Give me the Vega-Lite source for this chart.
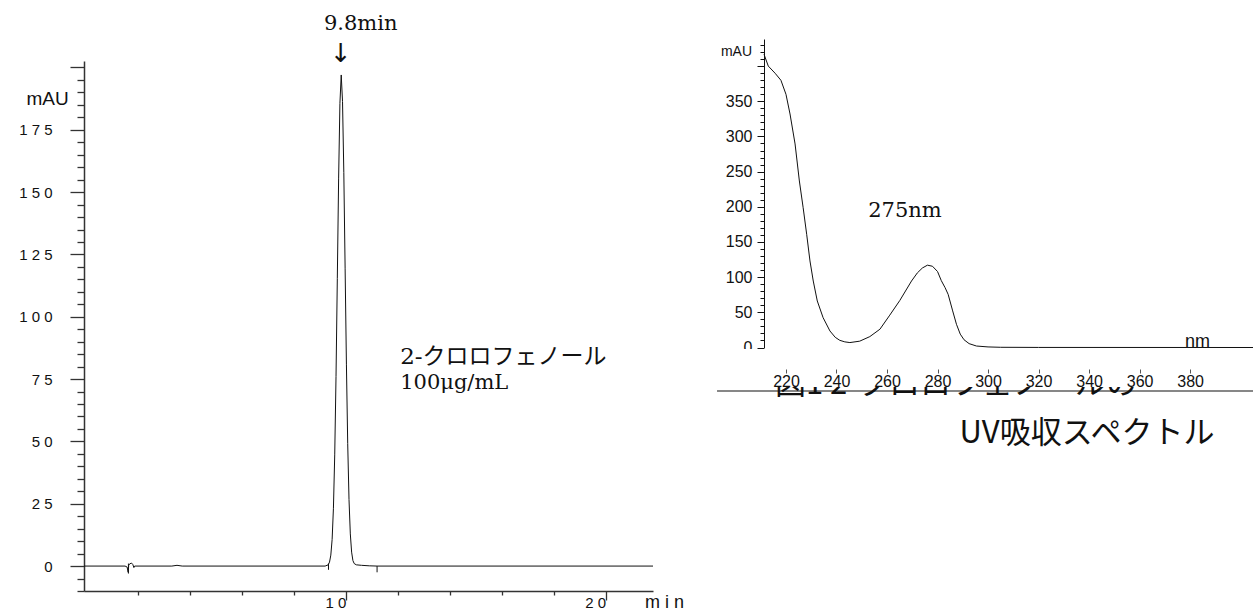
{
  "$schema": "https://vega.github.io/schema/vega-lite/v6.json",
  "background": "white",
  "padding": {"left": 18, "top": 12, "right": 0, "bottom": 0},
  "spacing": 111,
  "bounds": "flush",
  "config": {"view": {"stroke": null}, "axis": {"grid": false, "labelOverlap": false, "labelFlush": false, "labelBound": false}},
  "datasets": {
    "chrom": [
      {"t": -0.08, "v": 0}, {"t": 1.5, "v": 0}, {"t": 1.58, "v": -0.4}, {"t": 1.62, "v": -2.5}, {"t": 1.64, "v": 0.3},
      {"t": 1.68, "v": 0.9}, {"t": 1.75, "v": 1.2}, {"t": 1.8, "v": 0.6}, {"t": 1.84, "v": -0.6}, {"t": 1.87, "v": 0},
      {"t": 3.3, "v": 0}, {"t": 3.5, "v": 0.3}, {"t": 3.7, "v": 0},
      {"t": 9.2, "v": 0}, {"t": 9.32, "v": 0.5}, {"t": 9.37, "v": 1.6}, {"t": 9.42, "v": 4.4}, {"t": 9.47, "v": 10.7},
      {"t": 9.52, "v": 23.2}, {"t": 9.57, "v": 44.6}, {"t": 9.62, "v": 76.1}, {"t": 9.67, "v": 115.4}, {"t": 9.72, "v": 155.3},
      {"t": 9.77, "v": 185.6}, {"t": 9.82, "v": 197}, {"t": 9.87, "v": 186.4}, {"t": 9.92, "v": 157.8}, {"t": 9.97, "v": 119.5},
      {"t": 10.02, "v": 81.0}, {"t": 10.07, "v": 49.1}, {"t": 10.12, "v": 26.7}, {"t": 10.17, "v": 12.9}, {"t": 10.22, "v": 5.6},
      {"t": 10.27, "v": 2.2}, {"t": 10.32, "v": 1.0}, {"t": 10.4, "v": 0.5}, {"t": 10.6, "v": 0.3}, {"t": 10.9, "v": 0.1},
      {"t": 11.2, "v": 0}, {"t": 21.82, "v": 0}
    ],
    "marks": [
      {"t": 9.33, "lo": -1.5, "hi": 1},
      {"t": 11.2, "lo": -2.5, "hi": 0},
      {"t": 1.63, "lo": -3, "hi": 1}
    ],
    "spec": [
      {"nm": 211.3, "a": 416.8}, {"nm": 213.0, "a": 400}, {"nm": 215.7, "a": 389.8}, {"nm": 218.0, "a": 379.8},
      {"nm": 220.0, "a": 359.9}, {"nm": 221.6, "a": 331.9}, {"nm": 223.6, "a": 289.3}, {"nm": 225.3, "a": 236.7},
      {"nm": 226.8, "a": 198.7}, {"nm": 228.2, "a": 160.9}, {"nm": 229.5, "a": 123.0}, {"nm": 230.8, "a": 94.5},
      {"nm": 232.4, "a": 66.1}, {"nm": 234.7, "a": 42.4}, {"nm": 237.4, "a": 23.5}, {"nm": 239.5, "a": 14.5},
      {"nm": 241.3, "a": 10.2}, {"nm": 243.3, "a": 8.0}, {"nm": 245.3, "a": 7.0}, {"nm": 249.2, "a": 9.0},
      {"nm": 253.2, "a": 15.5}, {"nm": 257.2, "a": 26}, {"nm": 261.1, "a": 46}, {"nm": 265.1, "a": 67},
      {"nm": 269.7, "a": 94.5}, {"nm": 272.0, "a": 106}, {"nm": 274.0, "a": 113}, {"nm": 276.0, "a": 117},
      {"nm": 278.0, "a": 115.5}, {"nm": 280.0, "a": 108}, {"nm": 281.5, "a": 95}, {"nm": 283.0, "a": 85},
      {"nm": 284.2, "a": 75.6}, {"nm": 286.0, "a": 52}, {"nm": 287.5, "a": 33}, {"nm": 289.0, "a": 19},
      {"nm": 290.5, "a": 11}, {"nm": 292.5, "a": 5.5}, {"nm": 295.4, "a": 2.1}, {"nm": 300, "a": 0.8},
      {"nm": 305, "a": 0.3}, {"nm": 320, "a": 0.1}, {"nm": 404.9, "a": 0}
    ]
  },
  "hconcat": [
    {
      "width": 569,
      "height": 552,
      "layer": [
        {
          "data": {"name": "chrom"},
          "mark": {"type": "line", "color": "#111", "strokeWidth": 1},
          "encoding": {
            "x": {"field": "t", "type": "quantitative",
              "scale": {"domain": [-0.08, 21.82], "nice": false, "zero": false},
              "axis": {
                "values": [2, 4, 6, 8, 10, 12, 14, 16, 18, 20], "tickCount": 200,
                "labelOverlap": false, "labelFlush": false, "labelBound": false, "grid": false,
                "labelExpr": "datum.value === 10 || datum.value === 20 ? join(split(toString(datum.value), ''), ' ') : ''",
                "tickSize": {"condition": {"test": "datum.value === 10 || datum.value === 20", "value": 9}, "value": 4},
                "labelAlign": "right", "labelDx": 3, "labelPadding": -5, "labelBaseline": "top",
                "labelFont": "Liberation Sans", "labelFontSize": 15, "labelColor": "#111",
                "domainColor": "#333", "domainWidth": 1.5, "tickColor": "#333", "tickWidth": 1.3,
                "title": "m i n", "titleX": 580, "titleY": 11, "titleAlign": "center", "titleBaseline": "middle",
                "titleFont": "Liberation Sans", "titleFontSize": 18, "titleFontWeight": "normal", "titleColor": "#111"
              }},
            "y": {"field": "v", "type": "quantitative",
              "scale": {"domain": [-10, 202.6], "range": [552, 22], "nice": false, "zero": false},
              "axis": {
                "values": [-10,-5,0,5,10,15,20,25,30,35,40,45,50,55,60,65,70,75,80,85,90,95,100,105,110,115,120,125,130,135,140,145,150,155,160,165,170,175,180,185,190,195,200],
                "tickCount": 200,
                "labelOverlap": false, "labelFlush": false, "labelBound": false, "grid": false,
                "labelExpr": "datum.value % 25 === 0 && datum.value >= 0 && datum.value <= 175 ? join(split(toString(datum.value), ''), ' ') : ''",
                "tickSize": {"condition": {"test": "datum.value % 25 === 0", "value": 14}, "value": 7},
                "labelPadding": 18,
                "labelFont": "Liberation Sans", "labelFontSize": 15, "labelColor": "#111",
                "domainColor": "#333", "domainWidth": 1.5, "tickColor": "#333", "tickWidth": 1.3,
                "title": "mAU", "titleAngle": 0, "titleX": -37, "titleY": 59, "titleAlign": "center", "titleBaseline": "middle",
                "titleFont": "Liberation Sans", "titleFontSize": 19, "titleFontWeight": "normal", "titleColor": "#111"
              }}
          }
        },
        {
          "data": {"name": "marks"},
          "mark": {"type": "rule", "color": "#111", "strokeWidth": 1},
          "encoding": {
            "x": {"field": "t", "type": "quantitative", "scale": {"domain": [-0.08, 21.82], "nice": false, "zero": false}},
            "y": {"field": "lo", "type": "quantitative", "scale": {"domain": [-10, 202.6], "range": [552, 22], "nice": false, "zero": false}},
            "y2": {"field": "hi"}
          }
        },
        {
          "data": {"values": [{"t": 9.8, "v": 217.5, "label": "9.8min"}]},
          "mark": {"type": "text", "font": "DejaVu Serif", "fontSize": 21, "color": "#111", "dx": 20, "baseline": "middle"},
          "encoding": {
            "x": {"field": "t", "type": "quantitative", "scale": {"domain": [-0.08, 21.82], "nice": false, "zero": false}},
            "y": {"field": "v", "type": "quantitative", "scale": {"domain": [-10, 202.6], "range": [552, 22], "nice": false, "zero": false}},
            "text": {"field": "label"}
          }
        },
        {
          "data": {"values": [{"t": 9.8, "v": 205.4, "label": "↓"}]},
          "mark": {"type": "text", "font": "DejaVu Sans", "fontSize": 26, "color": "#111", "baseline": "middle"},
          "encoding": {
            "x": {"field": "t", "type": "quantitative", "scale": {"domain": [-0.08, 21.82], "nice": false, "zero": false}},
            "y": {"field": "v", "type": "quantitative", "scale": {"domain": [-10, 202.6], "range": [552, 22], "nice": false, "zero": false}},
            "text": {"field": "label"}
          }
        },
        {
          "data": {"values": [{"t": 12.09, "v": 84, "label": "2-クロロフェノール"}]},
          "mark": {"type": "text", "font": "'DejaVu Serif', 'Noto Sans CJK JP'", "fontSize": 23, "color": "#111", "align": "left", "baseline": "middle"},
          "encoding": {
            "x": {"field": "t", "type": "quantitative", "scale": {"domain": [-0.08, 21.82], "nice": false, "zero": false}},
            "y": {"field": "v", "type": "quantitative", "scale": {"domain": [-10, 202.6], "range": [552, 22], "nice": false, "zero": false}},
            "text": {"field": "label"}
          }
        },
        {
          "data": {"values": [{"t": 12.09, "v": 73.6, "label": "100μg/mL"}]},
          "mark": {"type": "text", "font": "DejaVu Serif", "fontSize": 21, "color": "#111", "align": "left", "baseline": "middle"},
          "encoding": {
            "x": {"field": "t", "type": "quantitative", "scale": {"domain": [-0.08, 21.82], "nice": false, "zero": false}},
            "y": {"field": "v", "type": "quantitative", "scale": {"domain": [-10, 202.6], "range": [552, 22], "nice": false, "zero": false}},
            "text": {"field": "label"}
          }
        }
      ]
    },
    {
      "width": 489,
      "height": 308.5,
      "layer": [
        {
          "data": {"name": "spec"},
          "mark": {"type": "line", "color": "#111", "strokeWidth": 1},
          "encoding": {
            "x": {"field": "nm", "type": "quantitative",
              "scale": {"domain": [211.3, 404.9], "nice": false, "zero": false},
              "axis": {
                "values": [220, 240, 260, 280, 300, 320, 340, 360, 380], "tickCount": 200,
                "labelOverlap": false, "labelFlush": false, "labelBound": false, "grid": false,
                "domain": false, "offset": 21.5, "tickSize": 4, "tickColor": "#555", "tickWidth": 1,
                "labelPadding": 0, "labelBaseline": "top",
                "labelFont": "Liberation Sans", "labelFontSize": 16, "labelColor": "#111", "zindex": 1,
                "title": "nm", "titleX": 433, "titleY": -28, "titleAlign": "center", "titleBaseline": "middle",
                "titleFont": "Liberation Sans", "titleFontSize": 18, "titleFontWeight": "normal", "titleColor": "#111"
              }},
            "y": {"field": "a", "type": "quantitative",
              "scale": {"domain": [0, 438.5], "nice": false, "zero": false},
              "axis": {
                "values": [0,10,20,30,40,50,60,70,80,90,100,110,120,130,140,150,160,170,180,190,200,210,220,230,240,250,260,270,280,290,300,310,320,330,340,350,360,370,380,390,400,410,420,430],
                "tickCount": 200,
                "labelOverlap": false, "labelFlush": false, "labelBound": false, "grid": false,
                "labelExpr": "datum.value % 50 === 0 && datum.value <= 350 ? toString(datum.value) : ''",
                "tickSize": {"condition": {"test": "datum.value % 50 === 0", "value": 7}, "value": 4},
                "labelPadding": 5, "zindex": 0,
                "labelFont": "Liberation Sans", "labelFontSize": 16, "labelColor": "#111",
                "domainColor": "#111", "domainWidth": 1, "tickColor": "#111", "tickWidth": 1,
                "title": "mAU", "titleAngle": 0, "titleX": -28, "titleY": 12, "titleAlign": "center", "titleBaseline": "middle",
                "titleFont": "Liberation Sans", "titleFontSize": 14, "titleFontWeight": "normal", "titleColor": "#111"
              }}
          }
        },
        {
          "data": {"values": [{"nm": 267.1, "a": 194, "label": "275nm"}]},
          "mark": {"type": "text", "font": "DejaVu Serif", "fontSize": 21, "color": "#111", "baseline": "middle"},
          "encoding": {
            "x": {"field": "nm", "type": "quantitative", "scale": {"domain": [211.3, 404.9], "nice": false, "zero": false}},
            "y": {"field": "a", "type": "quantitative", "scale": {"domain": [0, 438.5], "nice": false, "zero": false}},
            "text": {"field": "label"}
          }
        },
        {
          "data": {"values": [{"nm": 287.3, "a": -53, "label": "図1 2-クロロフェノールの"}]},
          "mark": {"type": "text", "font": "Noto Sans CJK JP", "fontSize": 31, "color": "#111", "baseline": "middle"},
          "encoding": {
            "x": {"field": "nm", "type": "quantitative", "scale": {"domain": [211.3, 404.9], "nice": false, "zero": false}},
            "y": {"field": "a", "type": "quantitative", "scale": {"domain": [0, 438.5], "nice": false, "zero": false}},
            "text": {"field": "label"}
          }
        },
        {
          "data": {"values": [{}]},
          "mark": {"type": "rect", "color": "white", "opacity": 1},
          "encoding": {
            "x": {"datum": 192.7, "type": "quantitative", "scale": {"domain": [211.3, 404.9], "nice": false, "zero": false}},
            "x2": {"datum": 404.9},
            "y": {"datum": -2.1, "type": "quantitative", "scale": {"domain": [0, 438.5], "nice": false, "zero": false}},
            "y2": {"datum": -56}
          }
        },
        {
          "data": {"values": [{}]},
          "mark": {"type": "rule", "color": "#111", "strokeWidth": 1.2},
          "encoding": {
            "x": {"datum": 192.7, "type": "quantitative", "scale": {"domain": [211.3, 404.9], "nice": false, "zero": false}},
            "x2": {"datum": 404.9},
            "y": {"datum": -61.8, "type": "quantitative", "scale": {"domain": [0, 438.5], "nice": false, "zero": false}}
          }
        },
        {
          "data": {"values": [{"nm": 339.2, "a": -123, "label": "UV吸収スペクトル"}]},
          "mark": {"type": "text", "font": "Noto Sans CJK JP", "fontSize": 31, "color": "#111", "baseline": "middle"},
          "encoding": {
            "x": {"field": "nm", "type": "quantitative", "scale": {"domain": [211.3, 404.9], "nice": false, "zero": false}},
            "y": {"field": "a", "type": "quantitative", "scale": {"domain": [0, 438.5], "nice": false, "zero": false}},
            "text": {"field": "label"}
          }
        }
      ]
    }
  ]
}
